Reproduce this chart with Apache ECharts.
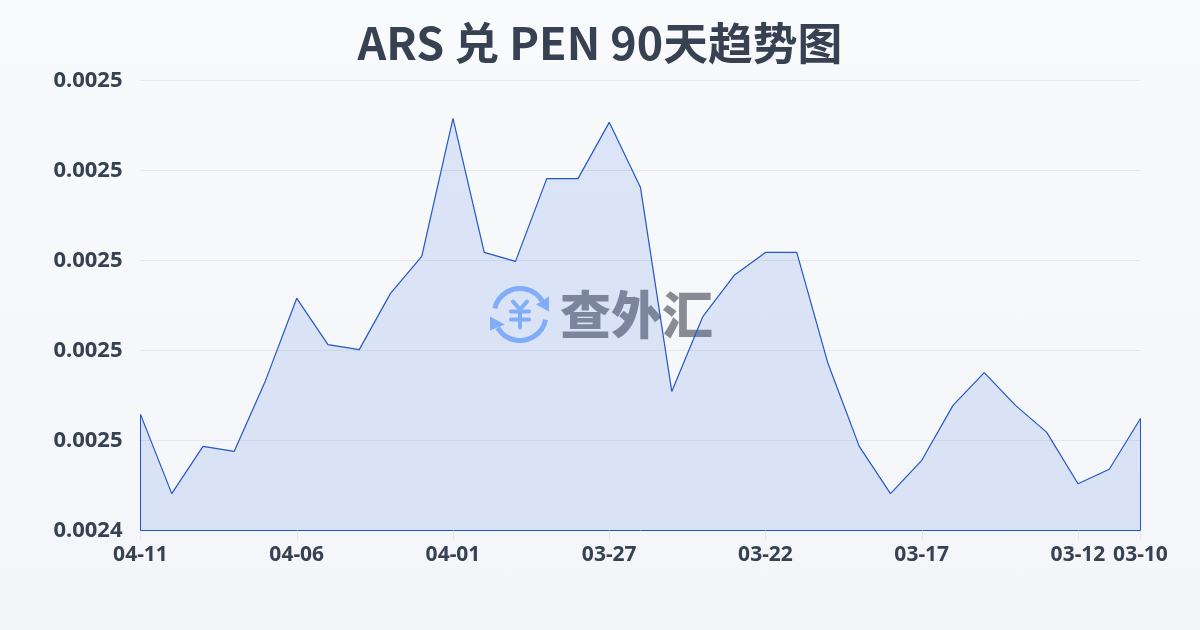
<!DOCTYPE html>
<html>
<head>
<meta charset="utf-8">
<style>
  html, body { margin: 0; padding: 0; }
  body { width: 1200px; height: 630px; background: linear-gradient(180deg, #f8fafc 0%, #f3f5f8 100%); }
  #chart { width: 1200px; height: 630px; }
</style>
<script src="https://cdn.jsdelivr.net/npm/echarts@6/dist/echarts.min.js"></script>
</head>
<body>
<div id="chart"></div>
<script>
// 日期（从新到旧）
const dates = ['04-11', '04-10', '04-09', '04-08', '04-07', '04-06', '04-05', '04-04', '04-03', '04-02', '04-01',
  '03-31', '03-30', '03-29', '03-28', '03-27', '03-26', '03-25', '03-24', '03-23', '03-22',
  '03-21', '03-20', '03-19', '03-18', '03-17', '03-16', '03-15', '03-14', '03-13', '03-12', '03-11', '03-10']
// 汇率
const rates = [0.0024658, 0.0024482, 0.0024587, 0.0024576, 0.0024733, 0.0024916, 0.0024813, 0.0024802, 0.0024927, 0.0025009, 0.0025316,
  0.0025018, 0.0024998, 0.0025182, 0.0025182, 0.0025307, 0.0025162, 0.0024709, 0.0024876, 0.0024967, 0.0025018,
  0.0025018, 0.0024771, 0.0024587, 0.0024482, 0.0024556, 0.0024678, 0.0024751, 0.0024678, 0.0024618, 0.0024504, 0.0024536, 0.0024649]
const shownDates = ['04-11', '04-06', '04-01', '03-27', '03-22', '03-17', '03-12', '03-10']
const yMin = 0.00244
const yMax = 0.00254
const yStep = 0.00002

const lineColor = '#2257c5'
const textColor = '#374151'
const logoColor = '#8fb8fa'
const markColor = 'rgba(67, 73, 83, 0.62)'
const showTick = (index, value) => shownDates.includes(value)
const yenStroke = { fill: null, stroke: logoColor, lineWidth: 4, lineCap: 'round', lineJoin: 'round' }

const chart = echarts.init(document.getElementById('chart'))
chart.setOption({
  animation: false,
  backgroundColor: 'transparent',
  title: {
    text: 'ARS 兑 PEN 90天趋势图',
    left: 'center',
    top: 15.5,
    textStyle: { color: textColor, fontSize: 44.8, fontWeight: 'bold', fontFamily: '"Noto Sans CJK SC", "Noto Sans", sans-serif' },
  },
  grid: { left: 140.5, right: 59.5, top: 80.5, bottom: 99.5 },
  xAxis: {
    type: 'category',
    boundaryGap: false,
    data: dates,
    axisLine: { lineStyle: { color: lineColor, width: 1 } },
    axisTick: { show: true, interval: showTick, length: 10, lineStyle: { color: '#e5e7eb' } },
    axisLabel: { interval: showTick, margin: 14, color: textColor, fontSize: 21, fontWeight: 'bold', fontFamily: '"Noto Sans", sans-serif', hideOverlap: false },
    splitLine: { show: false },
  },
  yAxis: {
    type: 'value',
    min: yMin,
    max: yMax,
    interval: yStep,
    axisLine: { show: false },
    axisTick: { show: false },
    axisLabel: { margin: 18, color: textColor, fontSize: 22, fontWeight: 'bold', fontFamily: '"Noto Sans", sans-serif', formatter: (v) => v.toFixed(4) },
    splitLine: { lineStyle: { color: '#e5e7eb', width: 1 } },
  },
  series: [
    {
      type: 'line',
      data: rates,
      symbol: 'none',
      smooth: false,
      lineStyle: { color: lineColor, width: 1.2 },
      areaStyle: { color: 'rgba(37, 90, 225, 0.13)', opacity: 1 },
      // 面积图左右两侧的竖边
      markLine: {
        silent: true,
        symbol: 'none',
        label: { show: false },
        lineStyle: { color: lineColor, width: 1, type: 'solid' },
        data: [
          [{ xAxis: 0, yAxis: yMin }, { xAxis: 0, yAxis: rates[0] }],
          [{ xAxis: dates.length - 1, yAxis: yMin }, { xAxis: dates.length - 1, yAxis: rates[rates.length - 1] }],
        ],
      },
    },
  ],
  // 水印
  graphic: [
    {
      type: 'group',
      left: 490,
      top: 286,
      z: 100,
      children: [
        { type: 'arc', shape: { cx: 30, cy: 29, r: 26, startAngle: -2.9, endAngle: -0.55 }, style: { fill: null, stroke: logoColor, lineWidth: 5 } },
        { type: 'arc', shape: { cx: 30, cy: 29, r: 26, startAngle: 0.2, endAngle: 2.6 }, style: { fill: null, stroke: logoColor, lineWidth: 5 } },
        { type: 'polygon', shape: { points: [[59, 11], [59, 26], [46, 19]] }, style: { fill: logoColor } },
        { type: 'polygon', shape: { points: [[0, 31], [0, 45], [15, 39]] }, style: { fill: logoColor } },
        { type: 'polyline', shape: { points: [[23, 16], [30, 24], [37, 16]] }, style: yenStroke },
        { type: 'polyline', shape: { points: [[30, 24], [30, 42]] }, style: yenStroke },
        { type: 'polyline', shape: { points: [[21, 26], [39, 26]] }, style: yenStroke },
        { type: 'polyline', shape: { points: [[21, 34], [39, 34]] }, style: yenStroke },
        { type: 'text', x: 70, y: 29, style: { text: '查外汇', fill: markColor, fontSize: 51, fontWeight: 900, fontFamily: '"Noto Sans CJK SC", sans-serif', align: 'left', verticalAlign: 'middle' } },
      ],
    },
  ],
})
</script>
</body>
</html>
